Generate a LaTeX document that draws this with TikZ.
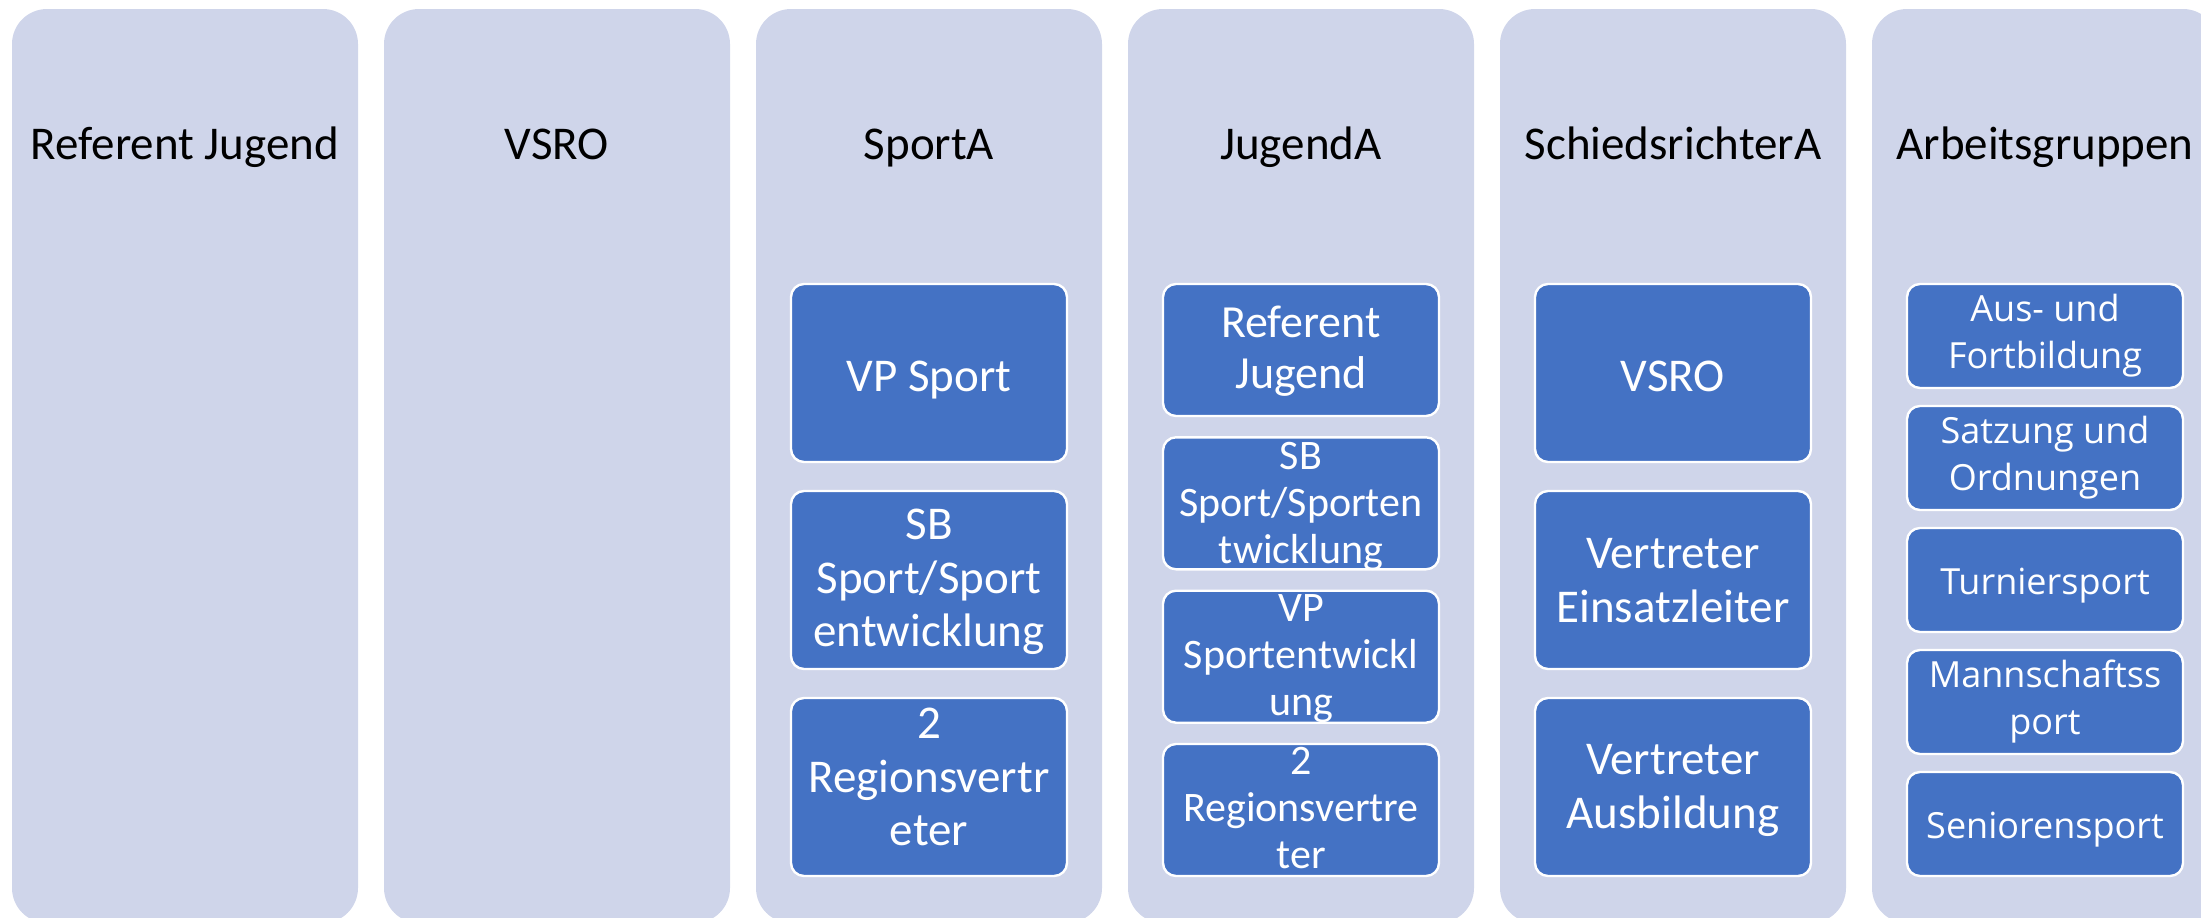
\documentclass[tikz,border=0pt]{standalone}
\usepackage{fontspec}
\setmainfont{Carlito}
\newfontfamily\groupfont{Open Sans}
\definecolor{colBack}{HTML}{CFD5EA}
\definecolor{boxBlue}{HTML}{4472C4}
\newcommand{\boxstrut}{\rule[-0.25em]{0pt}{1.3em}}
\begin{document}
\begin{tikzpicture}
[x=0.5pt,y=-0.5pt,%
  columnDecorate/.style={shape=rectangle,rounded corners=17.5pt,fill=colBack,inner sep=0pt,minimum width=173pt,minimum height=457pt},%
  titleDecorate/.style={anchor=base,inner sep=0pt,font=\fontsize{23.5pt}{26.5pt}\selectfont},%
  boxDecorate/.style={shape=rectangle,rounded corners=6.5pt,fill=boxBlue,draw=white,line width=1.2pt,inner sep=0pt,minimum width=138pt},%
  textDecorate/.style={align=center,text=white,inner sep=0pt,execute at begin node=\boxstrut,execute at end node=\boxstrut},%
  bigText/.style={textDecorate,font=\fontsize{23.5pt}{26.8pt}\selectfont},%
  midText/.style={textDecorate,font=\fontsize{23pt}{25.8pt}\selectfont},%
  smallText/.style={textDecorate,font=\fontsize{21pt}{23.5pt}\selectfont},%
  groupText/.style={textDecorate,font=\groupfont\fontsize{18pt}{23.3pt}\selectfont}]
\clip (0,0) rectangle (2201,917);
%% columns and their titles
\foreach \nodename/\x/\title in {
  refj/185/Referent Jugend, vsro/557/VSRO, sporta/929/SportA,
  jugenda/1301/JugendA, schiria/1673/SchiedsrichterA, ag/2045/Arbeitsgruppen}
{
  \node (\nodename) at (\x,466) [columnDecorate] {};
  \node (\nodename-title) at (\x,159) [titleDecorate] {\title};
}
%% boxes inside the columns
\foreach \nodename/\x/\y/\h/\dy/\textstyle/\boxtext in {
  sportaA/929/373/89pt/0pt/bigText/{VP Sport},
  sportaB/929/580/89pt/-2pt/bigText/{SB\\Sport/Sport\\entwicklung},
  sportaC/929/787/89pt/2pt/bigText/{2\\Regionsvertr\\eter},
  jugendaA/1301/350/66pt/-1.5pt/midText/{Referent\\Jugend},
  jugendaB/1301/503.3/66pt/-2.5pt/smallText/{SB\\Sport/Sporten\\twicklung},
  jugendaC/1301/656.7/66pt/-2pt/smallText/{VP\\Sportentwickl\\ung},
  jugendaD/1301/810/66pt/-1.5pt/smallText/{2\\Regionsvertre\\ter},
  schiriaA/1673/373/89pt/0pt/bigText/{VSRO},
  schiriaB/1673/580/89pt/-3pt/bigText/{Vertreter\\Einsatzleiter},
  schiriaC/1673/787/89pt/-2.5pt/bigText/{Vertreter\\Ausbildung},
  agA/2045/336/52pt/0pt/groupText/{Aus- und\\Fortbildung},
  agB/2045/458/52pt/0pt/groupText/{Satzung und\\Ordnungen},
  agC/2045/580/52pt/0pt/groupText/{Turniersport},
  agD/2045/702/52pt/0pt/groupText/{Mannschaftss\\port},
  agE/2045/824/52pt/0pt/groupText/{Seniorensport}}
{
  \node (\nodename) at (\x,\y) [boxDecorate,minimum height=\h] {};
  \node (\nodename-t) at (\nodename.center) [\textstyle,yshift=\dy] {\boxtext};
}
\end{tikzpicture}
\end{document}
